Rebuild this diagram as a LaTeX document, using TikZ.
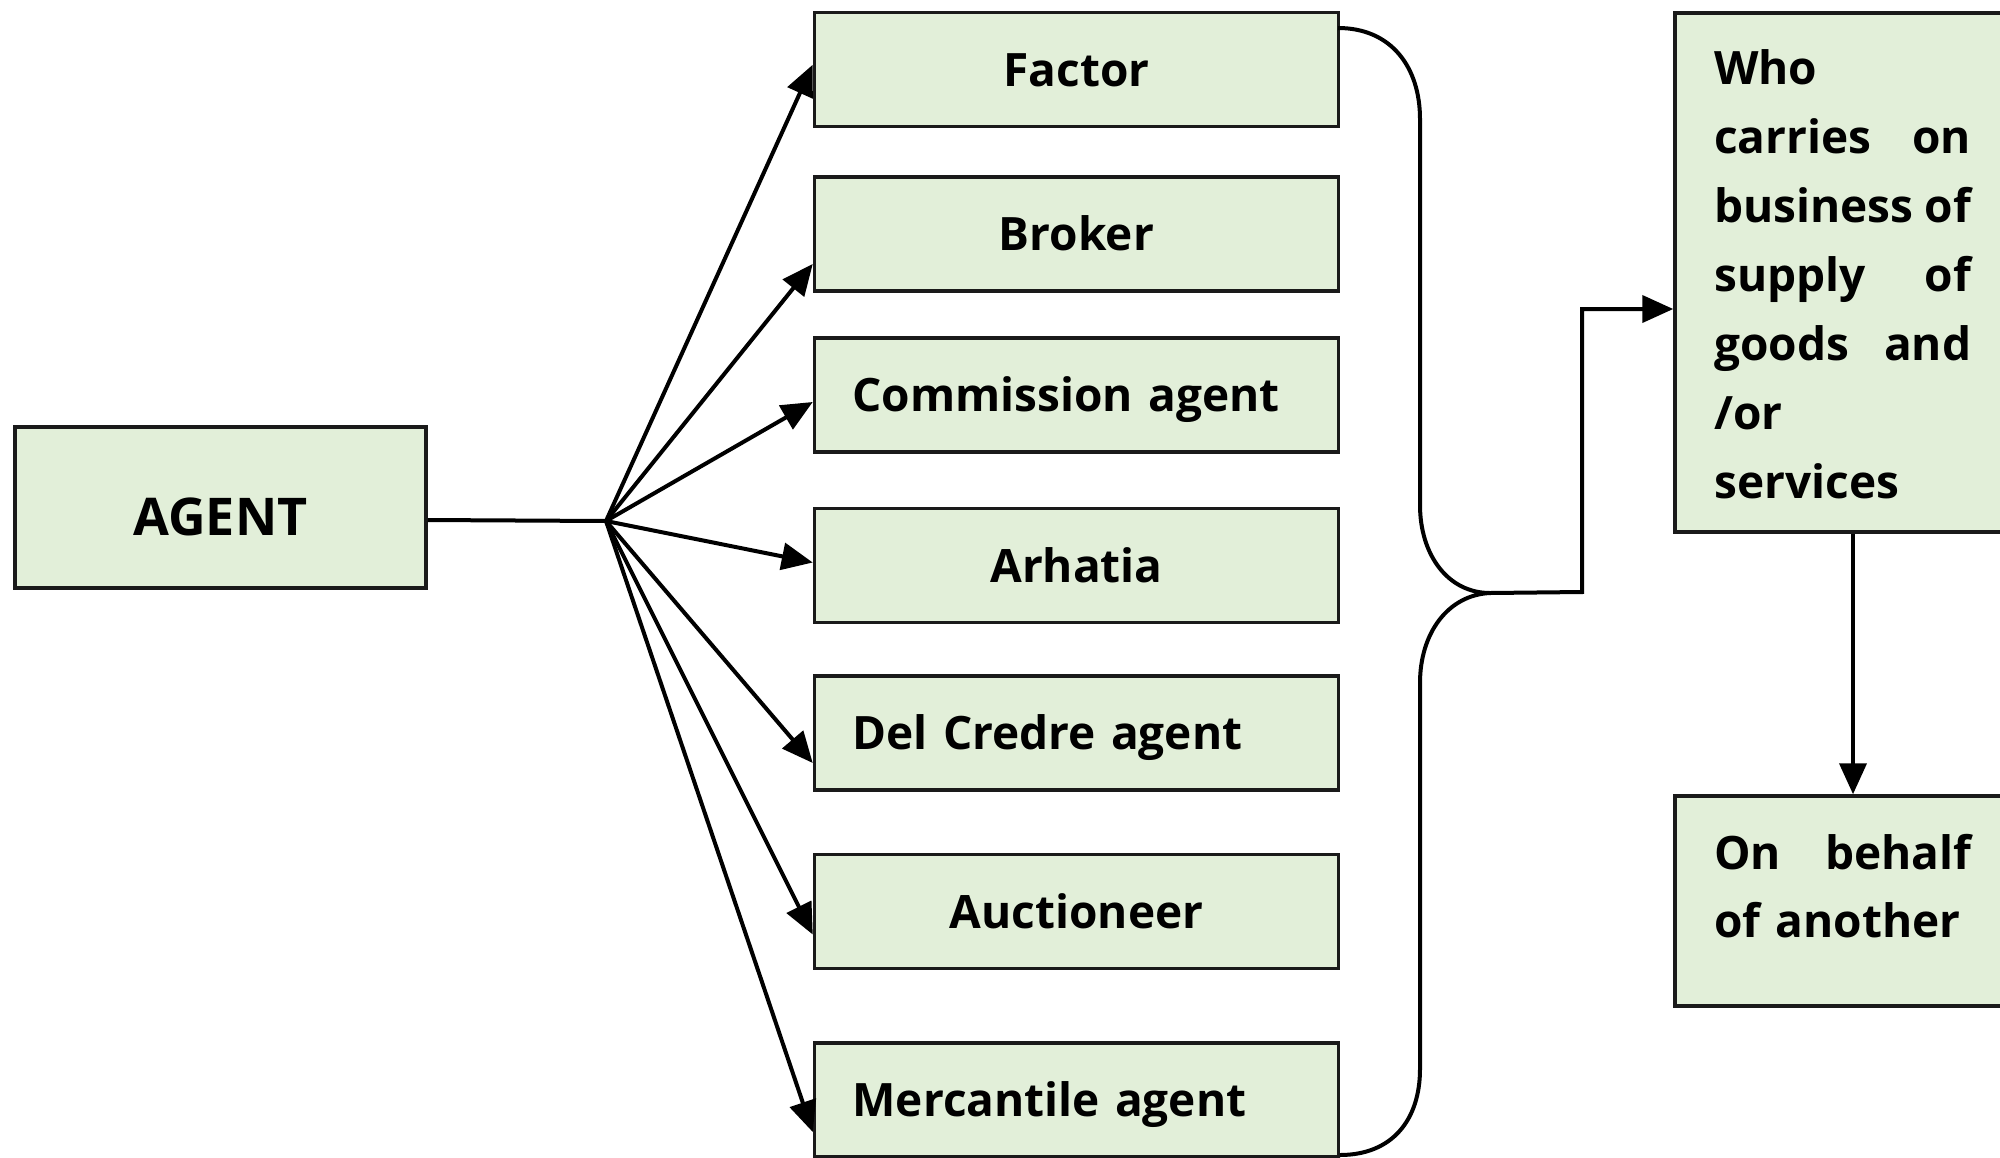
\documentclass[tikz,border=0pt]{standalone}
\usepackage{fontspec}
\setmainfont{Open Sans}
\usetikzlibrary{arrows.meta,calc}
\definecolor{boxfill}{HTML}{E2EFD9}
\definecolor{boxline}{HTML}{1A1A1A}
\newcommand\jline[1]{\leavevmode\hbox to 257pt{#1}}
\begin{document}
\begin{tikzpicture}[x=1pt,y=-1pt,
  box/.style={draw=boxline, line width=3.5pt, fill=boxfill, inner sep=0pt},
  midbox/.style={box, minimum width=524pt, minimum height=114pt,
    font=\fontsize{46}{55}\selectfont\bfseries, text height=33pt, text depth=0pt},
  leftbox/.style={midbox, text width=448pt, align=left, inner xsep=38pt},
  sidebox/.style={box, minimum width=356pt},
  sidetext/.style={anchor=north west, inner sep=0pt, text width=257pt, align=left},
  conn/.style={line width=4pt, draw=black},
  arr/.style={conn, -{Triangle[length=31pt,width=27pt]}},
]
\useasboundingbox (0,0) rectangle (2000,1157);

% left box
\node[box, minimum width=411pt, minimum height=161pt,
  font=\fontsize{52}{60}\selectfont\bfseries, text height=55pt, text depth=0pt]
  (agent) at (220.5,507.5) {AGENT};

% middle boxes
\node[midbox]  (factor)   at (1076.5,69.7)  {Factor};
\node[midbox]  (broker)   at (1076.5,234)   {Broker};
\node[leftbox] (comm)     at (1076.5,395)   {Commission agent};
\node[midbox]  (arhatia)  at (1076.5,565.5) {Arhatia};
\node[leftbox] (delc)     at (1076.5,733)   {Del Credre agent};
\node[midbox]  (auction)  at (1076.5,911.5) {Auctioneer};
\node[leftbox] (merc)     at (1076.5,1100)  {Mercantile agent};

% right boxes
\node[sidebox, minimum height=519pt] (who) at (1853,272.5) {};
\node[sidetext, font=\fontsize{46}{69}\selectfont\bfseries] (whotext) at (1714,44)
  {\rule{0pt}{40pt}Who\\
   \jline{carries\hfill on}\\
   \jline{business\hfill of}\\
   \jline{supply\hfill of}\\
   \jline{goods\hfill and}\\
   /or\\
   services};
\node[sidebox, minimum height=210pt] (behalf) at (1853,901) {};
\node[sidetext, font=\fontsize{46}{68}\selectfont\bfseries] (behalftext) at (1714,829)
  {\rule{0pt}{40pt}\jline{On\hfill behalf}\\
   of another};

% fan
\coordinate (split) at (606,521);
\draw[conn] ([yshift=-12.5pt]agent.east) -- (split);
\draw[arr] (split) -- ([yshift=5pt]factor.west);
\draw[arr] (split) -- ([yshift=-30pt]broker.west);
\draw[arr] (split) -- ([yshift=-7pt]comm.west);
\draw[arr] (split) -- ([yshift=3pt]arhatia.west);
\draw[arr] (split) -- ([yshift=-30pt]delc.west);
\draw[arr] (split) -- ([yshift=-23pt]auction.west);
\draw[arr] (split) -- ([yshift=-32pt]merc.west);

% brace
\coordinate (bstart) at (1338,28);
\coordinate (btip) at (1490,593);
\coordinate (bend) at (1340,1155);
\draw[conn] (bstart) .. controls (1392,28) and (1420,68) .. (1420,119)
  -- (1420,505) .. controls (1420,555) and (1448,593) .. (btip)
  .. controls (1448,595) and (1420,633) .. (1420,683)
  -- (1420,1069) .. controls (1420,1120) and (1392,1155) .. (bend);

% to right boxes
\coordinate (whoin) at ([yshift=-36.5pt]who.west);
\draw[arr] (btip) -- (1582,592) |- (whoin);
\draw[arr] (who.south) -- (behalf.north);
\end{tikzpicture}
\end{document}
